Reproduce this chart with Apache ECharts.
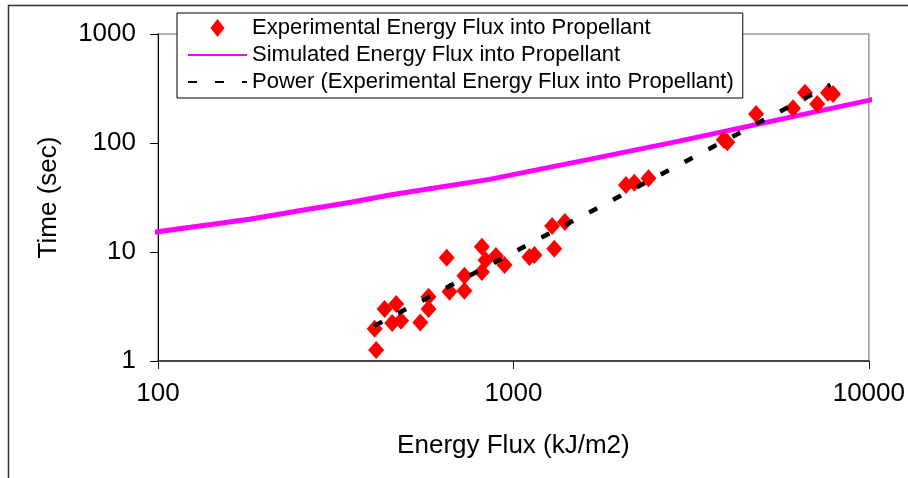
<!DOCTYPE html>
<html>
<head>
<meta charset="utf-8">
<script src="https://cdn.jsdelivr.net/npm/echarts@6/dist/echarts.min.js"></script>
<style>html,body{margin:0;padding:0;background:#fff;}#c{width:908px;height:478px;}</style>
</head>
<body>
<div id="c"></div>
<script>
const seriesNames = ['Experimental Energy Flux into Propellant', 'Simulated Energy Flux into Propellant', 'Power (Experimental Energy Flux into Propellant)'];
const expFlux = [411,407,434,456,468,483,547,577,577,649,661,728,728,815,815,835,893,944,1109,1146,1303,1285,1396,2073,2188,2399,3907,3997,4817,6117,6612,7158,7673,7931];
const expTime = [1.26,1.98,3.0,2.23,3.33,2.34,2.25,3.89,3.0,8.87,4.32,4.4,6.06,11.2,6.55,8.4,9.2,7.6,9.0,9.4,10.7,17.3,18.8,41.2,43.2,47.5,107,101.5,184.5,208,289,228,289,282];
const simFlux = [95,181,262,346,449,856,1635,2926,5585,10000,10600];
const simTime = [15.0,20.0,24.5,28.5,33.3,46.4,70.8,104,164,246,257];
const powFlux = [406,1222,7800];
const powTime = [2.1,14.0,342];
const xTicks = [100,1000,10000];
const yTicks = [1,10,100,1000];

const zip = (a,b) => a.map((v,i) => [v, b[i]]);
const font = 'Liberation Sans, Arial, sans-serif';
const fmt = v => String(Math.round(v));
const chart = echarts.init(document.getElementById('c'), null, {renderer:'canvas'});
chart.setOption({
  animation: false,
  backgroundColor: '#fff',
  graphic: [{type:'rect', shape:{x:8.5, y:5.5, width:1000, height:1000}, style:{fill:'none', stroke:'#333', lineWidth:1.5}, z:-1}],
  grid: {left:158, right:38, top:34, bottom:117, show:true, borderColor:'#999', borderWidth:1.5},
  legend: {
    orient:'vertical', left:177, top:13, backgroundColor:'#fff', borderColor:'#000', borderWidth:1,
    padding:[4,9,5,10], itemGap:5, itemWidth:59, itemHeight:18,
    textStyle:{fontFamily:font, fontSize:22, color:'#000'},
    data:[
      {name:seriesNames[0], icon:'path://M0,-9L7,0L0,9L-7,0Z'},
      {name:seriesNames[1], itemStyle:{color:'rgba(0,0,0,0)', borderWidth:0, opacity:0}},
      {name:seriesNames[2], itemStyle:{color:'rgba(0,0,0,0)', borderWidth:0, opacity:0}}
    ]
  },
  xAxis: {
    type:'log', logBase:10, min:xTicks[0], max:xTicks[xTicks.length-1],
    name:'Energy Flux (kJ/m2)', nameLocation:'middle', nameGap:72,
    nameTextStyle:{fontFamily:font, fontSize:26, color:'#000'},
    axisLine:{show:true, lineStyle:{color:'#222', width:1.5}},
    axisTick:{show:true, inside:false, length:8, lineStyle:{color:'#222'}},
    minorTick:{show:false}, splitLine:{show:false},
    axisLabel:{fontFamily:font, fontSize:26, color:'#000', margin:20, formatter:fmt}
  },
  yAxis: {
    type:'log', logBase:10, min:yTicks[0], max:yTicks[yTicks.length-1],
    name:'Time (sec)', nameLocation:'middle', nameGap:96,
    nameTextStyle:{fontFamily:font, fontSize:26, color:'#000'},
    axisLine:{show:true, lineStyle:{color:'#000', width:1}},
    axisTick:{show:true, inside:false, length:8, lineStyle:{color:'#000'}},
    minorTick:{show:false}, splitLine:{show:false},
    axisLabel:{fontFamily:font, fontSize:26, color:'#000', margin:22, formatter:fmt}
  },
  series: [
    {name:seriesNames[1], type:'line', data:zip(simFlux, simTime), symbol:'none', clip:false,
     lineStyle:{color:'#FF00FF', width:5}, itemStyle:{color:'#FF00FF'}, z:2},
    {name:seriesNames[2], type:'line', data:zip(powFlux, powTime), symbol:'none',
     lineStyle:{color:'#000', width:4.5, type:[9,18]}, itemStyle:{color:'#000'}, z:4},
    {name:seriesNames[0], type:'scatter', data:zip(expFlux, expTime), symbol:'diamond', symbolSize:[16,18],
     itemStyle:{color:'#FF0000', opacity:1}, z:3}
  ]
});
</script>
</body>
</html>
